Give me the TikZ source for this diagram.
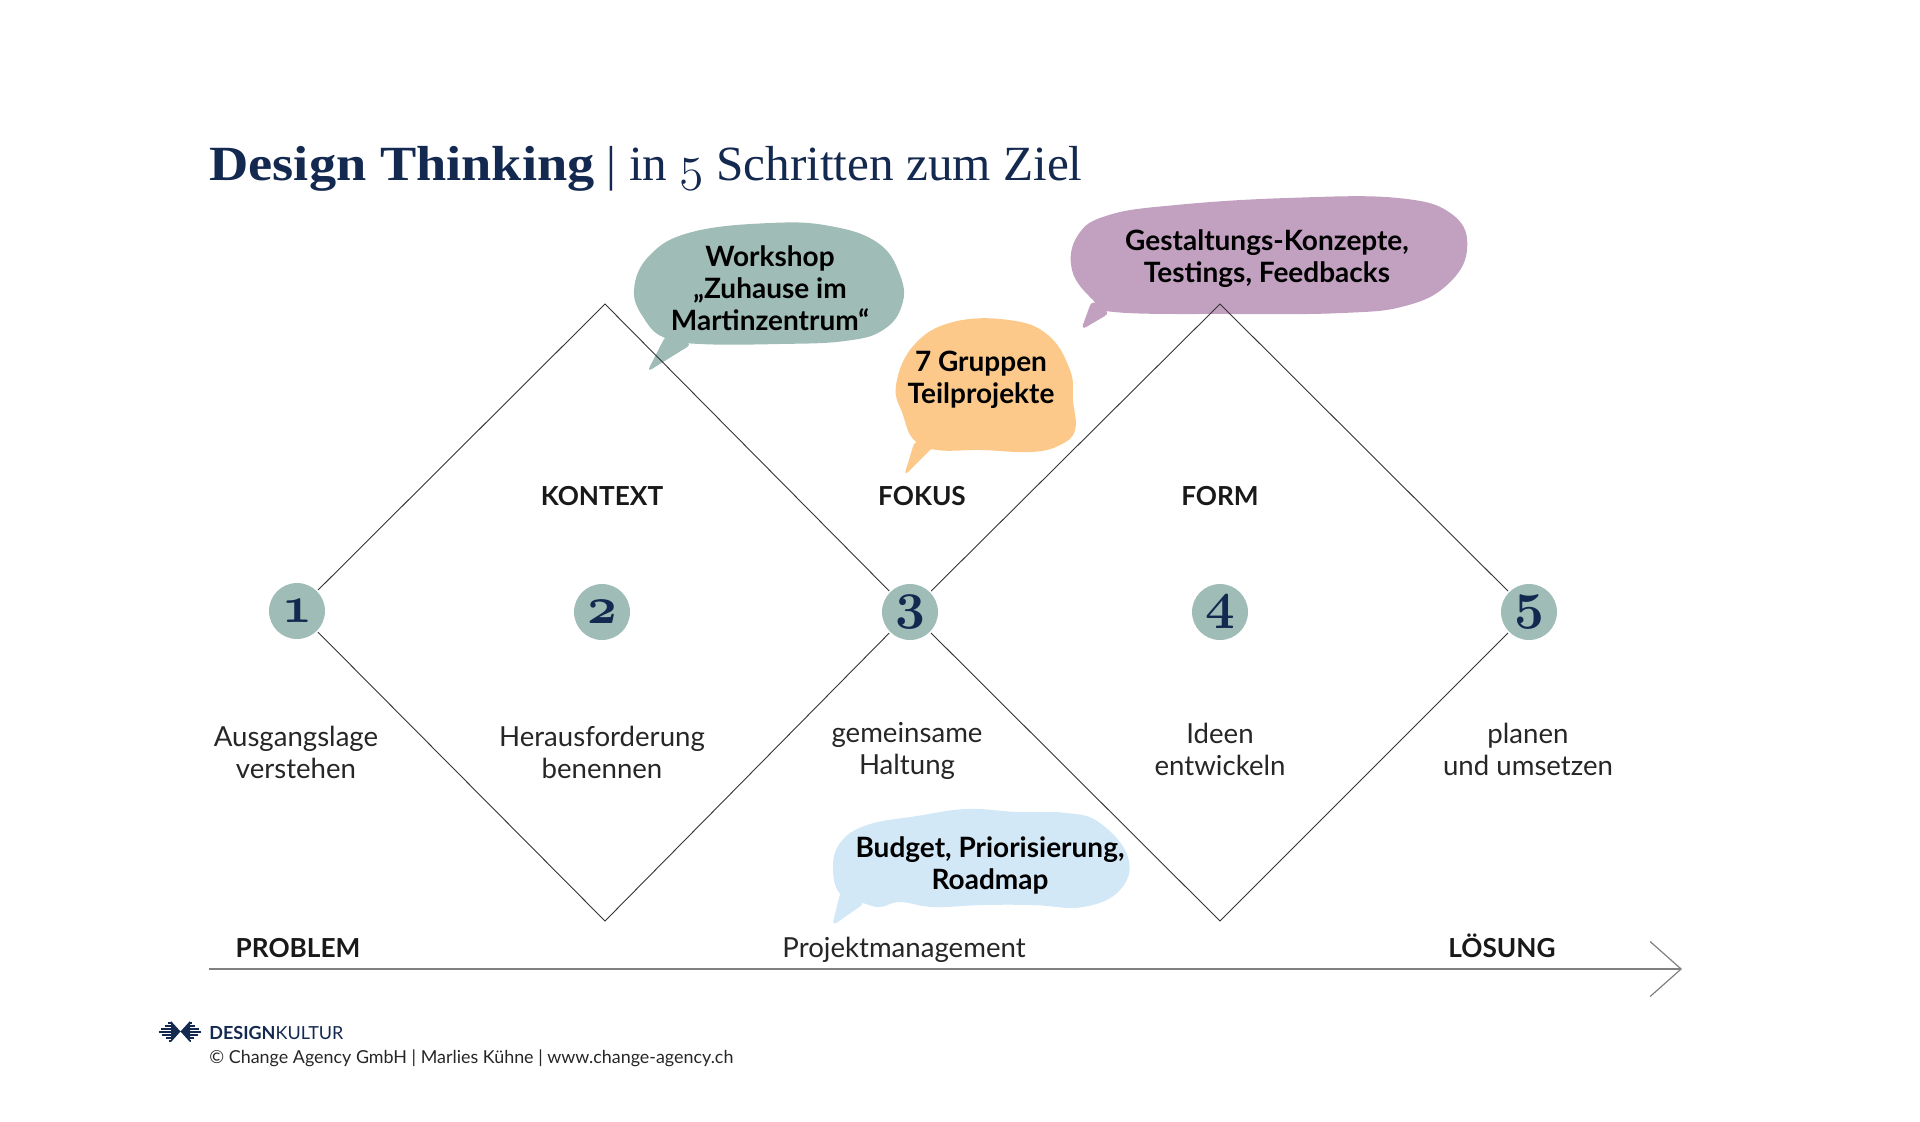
\documentclass[tikz,border=0pt]{standalone}
\usepackage{fontspec}
\setsansfont{Lato}
\newfontfamily\titlefont{Liberation Serif}
\newfontfamily\titlebold[FakeStretch=1.105]{Liberation Serif}
\usepackage{tikz}
\usetikzlibrary{arrows.meta,positioning}
\definecolor{navy}{HTML}{14294F}
\definecolor{sage}{HTML}{9FBDB6}
\definecolor{peach}{HTML}{FCC98A}
\definecolor{mauve}{HTML}{C2A0C0}
\definecolor{sky}{HTML}{D3E8F6}
\newcommand{\stepnum}[1]{{\boldmath\scalebox{1.5}{$\mathnormal{#1}$}}}

\begin{document}
\begin{tikzpicture}[
        x=0.5pt, y=-0.5pt,
        font=\sffamily,
        numcircle/.style={circle, fill=sage, text=navy, minimum size=28pt, inner sep=0pt, outer sep=0.8pt, font=\LARGE},
        phase/.style={font=\sffamily\fontsize{13.1}{16}\selectfont\bfseries, text=black!90},
        descr/.style={align=center, font=\sffamily\fontsize{13.8}{16}\selectfont, text=black!85},
        talk/.style={align=center, font=\sffamily\fontsize{14}{16}\selectfont\bfseries, text=black},
        blob/.style={smooth cycle, tension=0.7},
        edge/.style={draw=black!80, line width=0.45pt}
    ]
    \useasboundingbox (0,0) rectangle (1920,1121);

    % bubbles
    \fill[sage] plot[blob] coordinates {(770,223) (830,226) (878,243) (900,275) (902,305) (883,330) (845,341) (780,344) (700,344) (665,338) (645,320) (634,290) (650,255) (692,232)};
    \fill[sage, rounded corners=3pt] (666,335) -- (647,372) -- (692,344) -- cycle;
    \fill[peach] plot[blob] coordinates {(1009,320) (1048,335) (1070,370) (1073,400) (1075,430) (1060,445) (1031,452) (981,450) (937,450) (914,440) (903,415) (896,385) (914,345) (953,322)};
    \fill[peach, rounded corners=3pt] (915,440) -- (904,476) -- (935,445) -- cycle;
    \fill[mauve] plot[blob] coordinates {(1287,198) (1398,198) (1453,215) (1467,250) (1447,285) (1405,306) (1342,313) (1231,314) (1114,312) (1093,300) (1072,270) (1078,235) (1109,215) (1176,205)};
    \fill[mauve, rounded corners=3pt] (1092,300) -- (1081,330) -- (1110,313) -- cycle;
    \fill[sky] plot[blob] coordinates {(967,809) (1017,812) (1067,813) (1100,823) (1128,857) (1120,890) (1083,907) (1033,905) (983,905) (933,907) (900,902) (880,907) (863,903) (841,895) (833,870) (840,843) (867,825) (917,816)};
    \fill[sky, rounded corners=3pt] (841,890) -- (832,926) -- (865,903) -- cycle;

    \node[talk] (workshop) at (770,288.5) {Workshop\\„Zuhause im\\Martinzentrum“};
    \node[talk] (gruppen) at (981,379.5) {7 Gruppen\\Teilprojekte};
    \node[talk] (gestaltung) at (1267,258.5) {Gestaltungs-Konzepte,\\Testings, Feedbacks};
    \node[talk] (budget) at (990,865.5) {Budget, Priorisierung,\\Roadmap};

    % steps
    \node[numcircle] (n1) at (297,611) {\stepnum{1}};
    \node[numcircle] (n2) at (602,612) {\stepnum{2}};
    \node[numcircle] (n3) at (910,612) {\stepnum{3}};
    \node[numcircle] (n4) at (1220,612) {\stepnum{4}};
    \node[numcircle] (n5) at (1529,612) {\stepnum{5}};

    \coordinate (top1) at (605,304);
    \coordinate (bot1) at (605,921);
    \coordinate (top2) at (1220,304);
    \coordinate (bot2) at (1220,921);
    \draw[edge] (n1) -- (top1) -- (n3);
    \draw[edge] (n3) -- (bot1) -- (n1);
    \draw[edge] (n3) -- (top2) -- (n5);
    \draw[edge] (n5) -- (bot2) -- (n3);

    \node[phase] (kontext) at (602,496) {KONTEXT};
    \node[phase] (fokus) at (922,496) {FOKUS};
    \node[phase] (form) at (1220,496) {FORM};

    \node[descr] (d1) at (296,752) {Ausgangslage\\verstehen};
    \node[descr] (d2) at (602,752) {Herausforderung\\benennen};
    \node[descr] (d3) at (907,751) {gemeinsame\\Haltung};
    \node[descr] (d4) at (1220,749.5) {Ideen\\entwickeln};
    \node[descr] (d5) at (1528,749.5) {planen\\und umsetzen};

    % axis
    \coordinate (axisstart) at (209,969);
    \coordinate (axisend) at (1682,969);
    \draw[draw=black!50, line width=0.6pt, -{Straight Barb[length=15.5pt,width=27.5pt,line width=0.6pt]}] (axisstart) -- (axisend);
    \node[phase, anchor=base] (problem) at (298,957) {PROBLEM};
    \node[descr, anchor=base] (pm) at (904,957) {Projektmanagement};
    \node[phase, anchor=base] (loesung) at (1502,957) {LÖSUNG};

    % title and footer
    \node[anchor=base west, inner sep=0pt, text=navy, font=\titlefont\fontsize{24.6}{28}\selectfont] (title) at (209,180) {{\titlebold\bfseries Design Thinking} | in $\mathnormal{5}$ Schritten zum Ziel};

    \fill[navy] (171,1021) -- (180.5,1031.5) -- (190,1021) -- (190,1042) -- (180.5,1031.5) -- (171,1042) -- cycle;
    \foreach \ypos in {1023,1026,...,1041} {
        \draw[navy, line width=0.8pt] ({158+abs(\ypos-1031.5)*1.2},\ypos) -- (171,\ypos);
        \draw[navy, line width=0.8pt] ({202-abs(\ypos-1031.5)*1.2},\ypos) -- (190,\ypos);
    }
    \node[anchor=west, inner sep=0pt, text=navy, font=\sffamily\fontsize{9}{10}\selectfont] (brand) at (209,1033) {\textbf{DESIGN}KULTUR};
    \node[anchor=west, inner sep=0pt, text=black!85, font=\sffamily\fontsize{8.95}{10}\selectfont] (copy) at (209,1058) {© Change Agency GmbH | Marlies Kühne | www.change-agency.ch};
    \end{tikzpicture}
\end{document}
